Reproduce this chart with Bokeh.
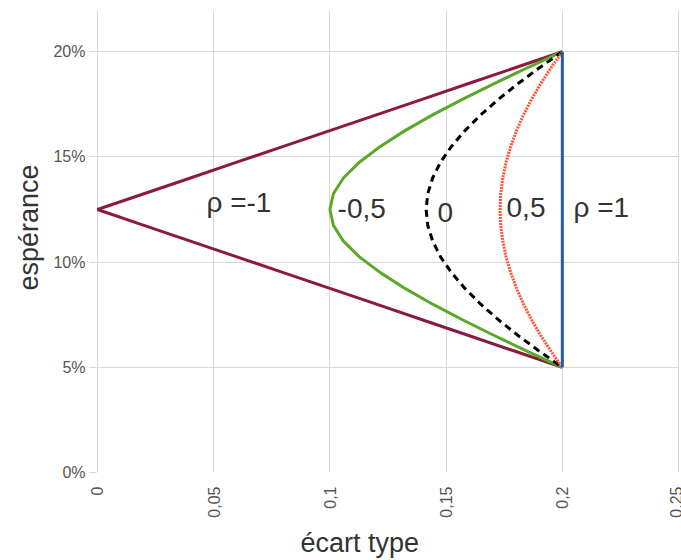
import math
from bokeh.plotting import figure
from bokeh.models import Range1d, FixedTicker, NumeralTickFormatter, Label, Title
from bokeh.embed import file_html
from bokeh.resources import INLINE

# ---- data ----
esperance = [0.20, 0.1925, 0.185, 0.1775, 0.17, 0.1625, 0.155, 0.1475, 0.14, 0.1325, 0.125,
             0.1175, 0.11, 0.1025, 0.095, 0.0875, 0.08, 0.0725, 0.065, 0.0575, 0.05]
sigma_rho_m1 = [0.200, 0.180, 0.160, 0.140, 0.120, 0.100, 0.080, 0.060, 0.040, 0.020, 0.000,
                0.020, 0.040, 0.060, 0.080, 0.100, 0.120, 0.140, 0.160, 0.180, 0.200]
sigma_rho_m05 = [0.2000, 0.1852, 0.1709, 0.1572, 0.1442, 0.1323, 0.1217, 0.1127, 0.1058, 0.1015, 0.1000,
                 0.1015, 0.1058, 0.1127, 0.1217, 0.1323, 0.1442, 0.1572, 0.1709, 0.1852, 0.2000]
sigma_rho_0 = [0.2000, 0.1903, 0.1811, 0.1726, 0.1649, 0.1581, 0.1523, 0.1476, 0.1442, 0.1421, 0.1414,
               0.1421, 0.1442, 0.1476, 0.1523, 0.1581, 0.1649, 0.1726, 0.1811, 0.1903, 0.2000]
sigma_rho_05 = [0.2000, 0.1952, 0.1908, 0.1868, 0.1833, 0.1803, 0.1778, 0.1758, 0.1744, 0.1735, 0.1732,
                0.1735, 0.1744, 0.1758, 0.1778, 0.1803, 0.1833, 0.1868, 0.1908, 0.1952, 0.2000]
sigma_rho_1 = [0.20] * 21

curve_labels = ["ρ =-1", "-0,5", "0", "0,5", "ρ =1"]

x_ticks = [0, 0.05, 0.1, 0.15, 0.2, 0.25]
x_tick_labels = ["0", "0,05", "0,1", "0,15", "0,2", "0,25"]
y_ticks = [0, 0.05, 0.10, 0.15, 0.20]

x_title = "écart type"
y_title = "espérance"

# ---- layout / style ----
FONT = "Liberation Sans"
GRID = "#d9d9d9"
TICK_COLOR = "#555555"
TITLE_COLOR = "#333333"
label_pos = [(0.0469, 0.1283), (0.1033, 0.1255), (0.1463, 0.1236), (0.1760, 0.1260), (0.2048, 0.1260)]

p = figure(frame_width=583, frame_height=462,
           min_border_left=96, min_border_right=2, min_border_top=10, min_border_bottom=88,
           x_range=Range1d(-0.0004, 0.2504), y_range=Range1d(0, 0.2196),
           output_backend="svg", toolbar_location=None)
p.outline_line_color = None
p.background_fill_color = "white"
p.border_fill_color = "white"

p.xaxis.ticker = FixedTicker(ticks=x_ticks)
p.yaxis.ticker = FixedTicker(ticks=y_ticks)
p.xaxis.major_label_overrides = dict(zip(x_ticks, x_tick_labels))
p.yaxis.formatter = NumeralTickFormatter(format="0%")

for ax in (p.xaxis, p.yaxis):
    ax.axis_line_color = None
    ax.minor_tick_line_color = None
    ax.major_label_text_font = FONT
    ax.major_label_text_font_size = "16px"
    ax.major_label_text_color = TICK_COLOR

p.xaxis.major_tick_line_color = None
p.xaxis.major_label_orientation = math.pi / 2
p.xaxis.major_label_standoff = 8

p.yaxis.major_tick_line_color = GRID
p.yaxis.major_tick_out = 7
p.yaxis.major_tick_in = 0
p.yaxis.major_label_standoff = 4

p.xgrid.grid_line_color = GRID
p.ygrid.grid_line_color = GRID
p.xgrid.ticker = FixedTicker(ticks=x_ticks)
p.ygrid.ticker = FixedTicker(ticks=y_ticks)

# axis titles as side titles (offset from the frame's start edge)
p.add_layout(Title(text=x_title, align="left", offset=204, standoff=10,
                   text_font=FONT, text_font_size="27px", text_font_style="normal",
                   text_color=TITLE_COLOR), "below")
p.add_layout(Title(text=y_title, align="left", offset=182, standoff=14,
                   text_font=FONT, text_font_size="27px", text_font_style="normal",
                   text_color=TITLE_COLOR), "left")

p.line(sigma_rho_m1, esperance, line_color="#8b1a3e", line_width=3)
p.line(sigma_rho_m05, esperance, line_color="#5aa82a", line_width=3)
p.line(sigma_rho_0, esperance, line_color="black", line_width=3, line_dash="7 5")
p.line(sigma_rho_05, esperance, line_color="#ff5533", line_width=3, line_dash="2 1")
p.line(sigma_rho_1, esperance, line_color="#1f5ca6", line_width=3)

for txt, (lx, ly) in zip(curve_labels, label_pos):
    p.add_layout(Label(x=lx, y=ly, text=txt, text_font=FONT, text_font_size="28px",
                       text_color=TITLE_COLOR, text_align="left", text_baseline="middle"))

open("out.html", "w").write(file_html(p, INLINE))
